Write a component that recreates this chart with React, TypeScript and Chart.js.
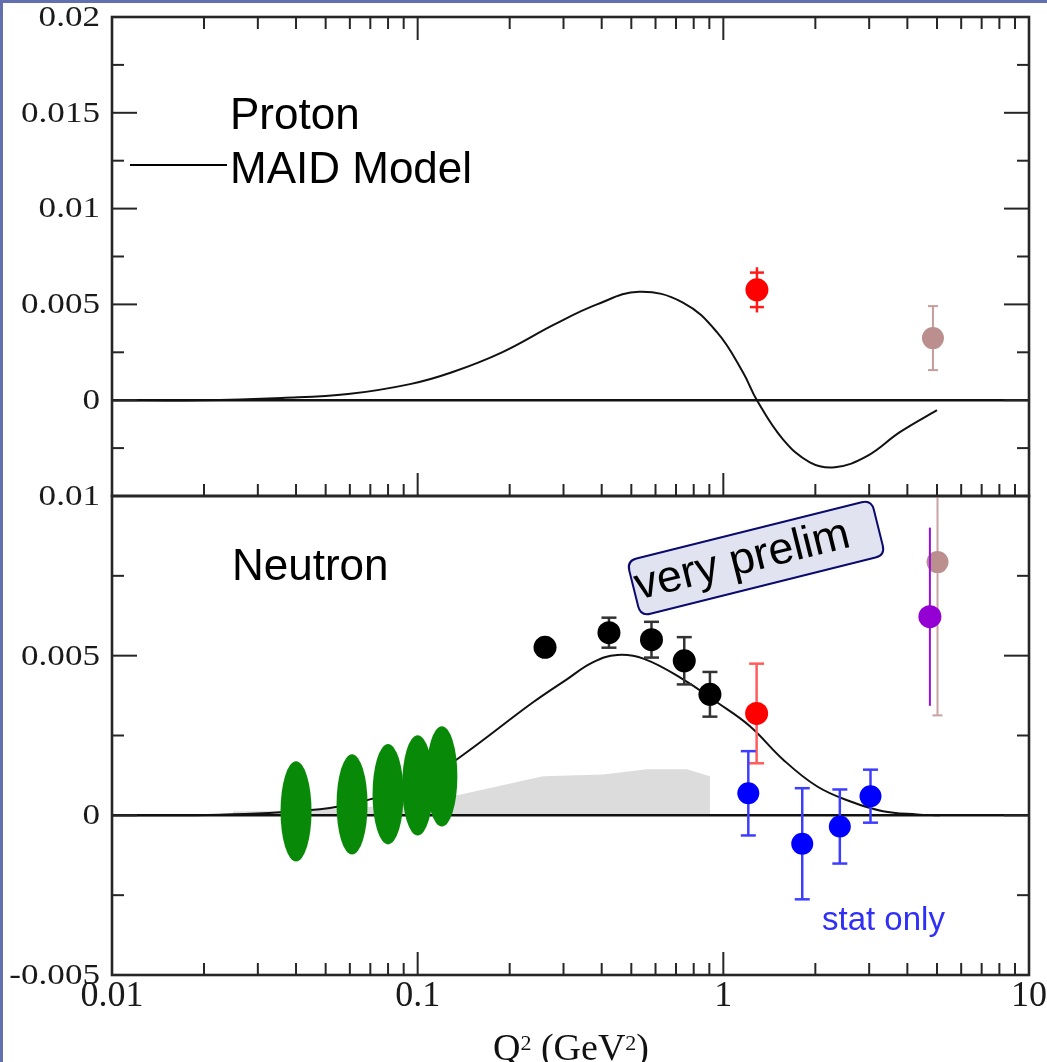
import React, { useEffect, useRef } from "react";
import { Chart, registerables } from "chart.js";
Chart.register(...registerables);

// ---------------- data ----------------
// MAID model, proton
const maidProtonQ2 = [0.01, 0.0194, 0.036, 0.0592, 0.0944, 0.1295, 0.1888, 0.2813, 0.386, 0.53, 0.735, 0.953, 1.159, 1.288, 1.567, 1.919, 2.317, 2.95, 3.78, 5.0];
const maidProtonA = [0, 0, 0.00012, 0.00032, 0.00084, 0.00146, 0.0025, 0.00397, 0.005, 0.00566, 0.00511, 0.00355, 0.00146, 0, -0.00204, -0.00324, -0.0035, -0.00292, -0.00167, -0.00052];

// proton data points
const protonRedQ2 = [1.288];
const protonRedA = [0.00576];
const protonRedStat = [0.0009];
const protonRedTot = [0.00118];

const protonBrownQ2 = [4.85];
const protonBrownA = [0.00324];
const protonBrownErr = [0.00167];

// MAID model, neutron
const maidNeutronQ2 = [0.01, 0.0225, 0.0479, 0.0698, 0.1, 0.1374, 0.2385, 0.3077, 0.374, 0.45, 0.55, 0.738, 0.953, 1.222, 1.567, 2.023, 2.594, 3.327, 4.3, 5.11];
const maidNeutronA = [0, 0.00002, 0.00019, 0.0005, 0.00097, 0.00182, 0.00354, 0.00426, 0.00479, 0.00502, 0.0049, 0.00426, 0.00354, 0.00279, 0.00175, 0.00091, 0.00044, 0.00013, 0.00003, 0];

// neutron systematic band
const bandQ2 = [0.0249, 0.04, 0.08, 0.1304, 0.257, 0.404, 0.562, 0.76, 0.904, 0.904];
const bandA = [0.00012, 0.00015, 0.0003, 0.0006, 0.00122, 0.00128, 0.00144, 0.00144, 0.00122, 0];

// neutron data points
const neutronBlackQ2 = [0.261, 0.4225, 0.582, 0.745, 0.904];
const neutronBlackA = [0.00526, 0.00572, 0.0055, 0.00484, 0.00379];
const neutronBlackErr = [0.0001, 0.00047, 0.00056, 0.00074, 0.0007];

const neutronRedQ2 = [1.285];
const neutronRedA = [0.00319];
const neutronRedErr = [0.00156];

const neutronBlueQ2 = [1.207, 1.812, 2.405, 3.03];
const neutronBlueA = [0.00069, -0.00089, -0.00035, 0.0006];
const neutronBlueErr = [0.00132, 0.00174, 0.00116, 0.00083];

const neutronPurpleQ2 = [4.74];
const neutronPurpleA = [0.00622];
const neutronPurpleErr = [0.00279];

const neutronBrownQ2 = [5.02];
const neutronBrownA = [0.00793];
const neutronBrownErr = [0.0048];

// low-Q2 neutron data (ellipses)
const greenQ2 = [0.04, 0.061, 0.08, 0.1, 0.12];
const greenA = [0.000125, 0.00034, 0.00066, 0.00094, 0.00122];
const greenErr = [0.00157, 0.00157, 0.00157, 0.00157, 0.00157];

// zero lines
const zeroQ2 = [0.01, 10];
const zeroA = [0, 0];

// ticks
const xTickValues = [0.01, 0.1, 1, 10];
const xTickLabels = ["0.01", "0.1", "1", "10"];
const xMajorTicks = [0.1, 1];
const xMinorTicks = [0.02, 0.03, 0.04, 0.05, 0.06, 0.07, 0.08, 0.09, 0.2, 0.3, 0.4, 0.5, 0.6, 0.7, 0.8, 0.9, 2, 3, 4, 5, 6, 7, 8, 9];

const protonYTickValues = [0, 0.005, 0.01, 0.015, 0.02];
const protonYTickLabels = ["0", "0.005", "0.01", "0.015", "0.02"];
const protonYMajor = [0, 0.005, 0.01, 0.015];
const protonYMinor = [-0.0025, 0.0025, 0.0075, 0.0125, 0.0175];

const neutronYTickValues = [-0.005, 0, 0.005, 0.01];
const neutronYTickLabels = ["-0.005", "0", "0.005", "0.01"];
const neutronYMajor = [0, 0.005];
const neutronYMinor = [-0.0025, 0.0025, 0.0075];

// ---------------- helpers ----------------
const pts = (xs: number[], ys: number[]) => xs.map((x, i) => ({ x, y: ys[i] }));

const SERIF = '"Liberation Serif", "Times New Roman", serif';
const SANS = '"Liberation Sans", Arial, sans-serif';
const AXIS = "#262626";
const MAJ = 23;
const MIN = 12;

const errorBarPlugin = {
  id: "errbars",
  beforeDatasetDraw(chart: any, args: any) {
    const ds: any = chart.data.datasets[args.index];
    if (!ds.errStat) return;
    const { ctx, chartArea: a } = chart;
    const xs = chart.scales.x;
    const ys = chart.scales.y;
    ctx.save();
    ctx.beginPath();
    ctx.rect(a.left, a.top, a.right - a.left, a.bottom - a.top);
    ctx.clip();
    ctx.strokeStyle = ds.errColor;
    ctx.lineWidth = ds.errWidth;
    ds.data.forEach((p: any, i: number) => {
      const px = xs.getPixelForValue(p.x);
      const tot = ds.errTot[i];
      const st = ds.errStat[i];
      ctx.beginPath();
      ctx.moveTo(px, ys.getPixelForValue(p.y + tot));
      ctx.lineTo(px, ys.getPixelForValue(p.y - tot));
      ctx.stroke();
      if (ds.capHalf > 0) {
        [p.y + st, p.y - st].forEach((v) => {
          const py = ys.getPixelForValue(v);
          ctx.beginPath();
          ctx.moveTo(px - ds.capHalf, py);
          ctx.lineTo(px + ds.capHalf, py);
          ctx.stroke();
        });
      }
    });
    ctx.restore();
  },
};

const framePlugin = (yMajor: number[], yMinor: number[], topTicks: boolean, yLabelValues: number[], yLabels: string[]) => ({
  id: "frame",
  afterDraw(chart: any) {
    const { ctx, chartArea: a } = chart;
    const xs = chart.scales.x;
    const ys = chart.scales.y;
    ctx.save();
    ctx.strokeStyle = AXIS;
    ctx.lineWidth = 2;
    const seg = (x1: number, y1: number, x2: number, y2: number) => {
      ctx.beginPath();
      ctx.moveTo(x1, y1);
      ctx.lineTo(x2, y2);
      ctx.stroke();
    };
    const xt = (vals: number[], len: number) =>
      vals.forEach((v) => {
        const px = xs.getPixelForValue(v);
        seg(px, a.bottom, px, a.bottom - len);
        if (topTicks) seg(px, a.top, px, a.top + len);
      });
    xt(xMajorTicks, MAJ);
    xt(xMinorTicks, MIN);
    const yt = (vals: number[], len: number) =>
      vals.forEach((v) => {
        const py = ys.getPixelForValue(v);
        seg(a.left, py, a.left + len, py);
        seg(a.right, py, a.right - len, py);
      });
    yt(yMajor, MAJ + 2);
    yt(yMinor, MIN);
    ctx.lineWidth = 2.6;
    ctx.strokeRect(a.left, a.top, a.right - a.left, a.bottom - a.top);

    // y tick labels (horizontally widened serif, like the original)
    ctx.fillStyle = "#1a1a1a";
    ctx.font = `30px ${SERIF}`;
    ctx.textAlign = "right";
    ctx.textBaseline = "middle";
    yLabelValues.forEach((v, i) => {
      const py = ys.getPixelForValue(v);
      ctx.save();
      ctx.translate(a.left - 12, py + 1);
      ctx.scale(1.17, 1);
      ctx.fillText(yLabels[i], 0, 0);
      ctx.restore();
    });
    ctx.restore();
  },
});

const ellipsePlugin = {
  id: "ellipses",
  afterDatasetsDraw(chart: any) {
    const { ctx } = chart;
    const xs = chart.scales.x;
    const ys = chart.scales.y;
    ctx.save();
    ctx.fillStyle = "#088a08";
    greenQ2.forEach((q, i) => {
      const cx = xs.getPixelForValue(q);
      const cy = ys.getPixelForValue(greenA[i]);
      const ry = Math.abs(ys.getPixelForValue(greenA[i] + greenErr[i]) - cy);
      ctx.beginPath();
      ctx.ellipse(cx, cy, 15.5, ry, 0, 0, Math.PI * 2);
      ctx.fill();
    });
    ctx.restore();
  },
};

const topTextPlugin = {
  id: "toptext",
  afterDraw(chart: any) {
    const { ctx } = chart;
    ctx.save();
    ctx.fillStyle = "#000";
    ctx.font = `44px ${SANS}`;
    ctx.textBaseline = "alphabetic";
    ctx.fillText("Proton", 230, 129);
    ctx.fillText("MAID Model", 230, 183);
    ctx.strokeStyle = "#000";
    ctx.lineWidth = 1.8;
    ctx.beginPath();
    ctx.moveTo(130, 165);
    ctx.lineTo(227, 165);
    ctx.stroke();
    ctx.restore();
  },
};

const OFF = 440; // top of bottom canvas in page

const bottomTextPlugin = {
  id: "bottomtext",
  afterDraw(chart: any) {
    const { ctx } = chart;
    ctx.save();
    ctx.fillStyle = "#000";
    ctx.font = `44px ${SANS}`;
    ctx.textBaseline = "alphabetic";
    ctx.fillText("Neutron", 232, 580 - OFF);

    // rotated "very prelim" box
    ctx.save();
    ctx.translate(756, 558 - OFF);
    ctx.rotate((-14 * Math.PI) / 180);
    const w = 252, h = 57, r = 10;
    ctx.beginPath();
    ctx.moveTo(-w / 2 + r, -h / 2);
    ctx.lineTo(w / 2 - r, -h / 2);
    ctx.quadraticCurveTo(w / 2, -h / 2, w / 2, -h / 2 + r);
    ctx.lineTo(w / 2, h / 2 - r);
    ctx.quadraticCurveTo(w / 2, h / 2, w / 2 - r, h / 2);
    ctx.lineTo(-w / 2 + r, h / 2);
    ctx.quadraticCurveTo(-w / 2, h / 2, -w / 2, h / 2 - r);
    ctx.lineTo(-w / 2, -h / 2 + r);
    ctx.quadraticCurveTo(-w / 2, -h / 2, -w / 2 + r, -h / 2);
    ctx.closePath();
    ctx.fillStyle = "#e1e4f0";
    ctx.fill();
    ctx.strokeStyle = "#0a0a70";
    ctx.lineWidth = 2;
    ctx.stroke();
    ctx.fillStyle = "#000";
    ctx.font = `45px ${SANS}`;
    ctx.fillText("very prelim", -124, 12);
    ctx.restore();

    ctx.fillStyle = "#2f2ff5";
    ctx.font = `33px ${SANS}`;
    ctx.fillText("stat only", 822, 930 - OFF);

    // axis title with superscripts
    const big = `38px ${SERIF}`;
    const small = `22px ${SERIF}`;
    const parts: any[] = [
      { t: "Q", f: big, dy: 0 },
      { t: "2", f: small, dy: -10 },
      { t: " (GeV", f: big, dy: 0 },
      { t: "2", f: small, dy: -10 },
      { t: ")", f: big, dy: 0 },
    ];
    let tw = 0;
    parts.forEach((p) => {
      ctx.font = p.f;
      p.w = ctx.measureText(p.t).width;
      tw += p.w;
    });
    let x = 571 - tw / 2;
    ctx.fillStyle = "#111";
    parts.forEach((p) => {
      ctx.font = p.f;
      ctx.fillText(p.t, x, 1060 - OFF + p.dy);
      x += p.w;
    });
    ctx.restore();
  },
};

const pointDs = (xs: number[], ys: number[], color: string, errStat: number[], errTot: number[], errColor: string, errWidth: number, capHalf: number, order: number, radius = 11.5): any => ({
  type: "scatter",
  data: pts(xs, ys),
  backgroundColor: color,
  borderWidth: 0,
  pointRadius: radius,
  pointHoverRadius: radius,
  errStat,
  errTot,
  errColor,
  errWidth,
  capHalf,
  order,
});

const lineDs = (xs: number[], ys: number[], width: number, order: number, tension = 0.4): any => ({
  type: "line",
  data: pts(xs, ys),
  borderColor: "#111",
  borderWidth: width,
  pointRadius: 0,
  fill: false,
  tension,
  order,
});

const yAxis = (min: number, max: number) => ({
  type: "linear",
  min,
  max,
  grid: { display: false, drawTicks: false },
  border: { display: false },
  afterFit(s: any) {
    s.width = 112;
  },
  ticks: { display: false },
});

export default function App() {
  const topRef = useRef<HTMLCanvasElement>(null);
  const botRef = useRef<HTMLCanvasElement>(null);

  useEffect(() => {
    const top = new Chart(topRef.current as HTMLCanvasElement, {
      type: "scatter",
      data: {
        datasets: [
          pointDs(protonRedQ2, protonRedA, "#ff0000", protonRedStat, protonRedTot, "#ff1a1a", 2.5, 7, 1),
          pointDs(protonBrownQ2, protonBrownA, "#bc8f8f", protonBrownErr, protonBrownErr, "#c79c9c", 2, 5, 2, 11),
          lineDs(maidProtonQ2, maidProtonA, 2, 5),
          lineDs(zeroQ2, zeroA, 2.5, 6, 0),
        ],
      },
      options: {
        responsive: false,
        animation: false,
        devicePixelRatio: 1,
        events: [],
        layout: { padding: { left: 0, right: 18, top: 17, bottom: 24 } },
        plugins: { legend: { display: false }, tooltip: { enabled: false } },
        scales: {
          x: { type: "logarithmic", min: 0.01, max: 10, display: false },
          y: yAxis(-0.005, 0.02),
        },
      } as any,
      plugins: [errorBarPlugin, framePlugin(protonYMajor, protonYMinor, true, protonYTickValues, protonYTickLabels), topTextPlugin],
    });

    const bottom = new Chart(botRef.current as HTMLCanvasElement, {
      type: "scatter",
      data: {
        datasets: [
          pointDs(neutronBlueQ2, neutronBlueA, "#0000ff", neutronBlueErr, neutronBlueErr, "#3d3dff", 2.5, 7.5, 1, 11),
          pointDs(neutronBlackQ2, neutronBlackA, "#000000", neutronBlackErr, neutronBlackErr, "#333333", 2.5, 7.5, 1),
          pointDs(neutronRedQ2, neutronRedA, "#ff0000", neutronRedErr, neutronRedErr, "#ff5c5c", 2.5, 7.5, 2),
          pointDs(neutronPurpleQ2, neutronPurpleA, "#9400d3", neutronPurpleErr, neutronPurpleErr, "#9a10d8", 2, 0, 2),
          pointDs(neutronBrownQ2, neutronBrownA, "#bc8f8f", neutronBrownErr, neutronBrownErr, "#c9a3a3", 2, 5, 3, 11),
          lineDs(maidNeutronQ2, maidNeutronA, 2, 5),
          lineDs(zeroQ2, zeroA, 2.5, 6, 0),
          {
            type: "line",
            data: pts(bandQ2, bandA),
            borderWidth: 0,
            borderColor: "rgba(0,0,0,0)",
            backgroundColor: "#dcdcdc",
            pointRadius: 0,
            fill: "origin",
            tension: 0,
            order: 10,
          } as any,
        ],
      },
      options: {
        responsive: false,
        animation: false,
        devicePixelRatio: 1,
        events: [],
        layout: { padding: { left: 0, right: 51, top: 56, bottom: 0 } },
        plugins: { legend: { display: false }, tooltip: { enabled: false }, filler: { propagate: false } },
        scales: {
          x: {
            type: "logarithmic",
            min: 0.01,
            max: 10,
            grid: { display: false },
            border: { display: false },
            afterFit(s: any) {
              s.height = 87;
            },
            afterBuildTicks(s: any) {
              s.ticks = xTickValues.map((v) => ({ value: v }));
            },
            ticks: {
              autoSkip: false,
              maxRotation: 0,
              padding: -4,
              color: "#1a1a1a",
              font: { family: SERIF, size: 36, lineHeight: 1 },
              callback: (_v: any, i: number) => xTickLabels[i],
            },
          },
          y: yAxis(-0.005, 0.01),
        },
      } as any,
      plugins: [errorBarPlugin, ellipsePlugin, framePlugin(neutronYMajor, neutronYMinor, false, neutronYTickValues, neutronYTickLabels), bottomTextPlugin],
    });

    return () => {
      top.destroy();
      bottom.destroy();
    };
  }, []);

  return (
    <div style={{ position: "fixed", left: 0, top: 0, width: 1047, height: 1062, overflow: "hidden", background: "#ffffff" }}>
      <canvas ref={topRef} width={1047} height={520} style={{ position: "absolute", left: 0, top: 0, width: 1047, height: 520, display: "block" }} />
      <canvas ref={botRef} width={1080} height={622} style={{ position: "absolute", left: 0, top: OFF, width: 1080, height: 622, display: "block" }} />
      <div
        style={{
          position: "absolute",
          left: 0,
          top: 0,
          width: 1047,
          height: 1062,
          boxSizing: "border-box",
          borderTop: "3px solid #6370b0",
          borderLeft: "3px solid #6370b0",
          pointerEvents: "none",
        }}
      />
    </div>
  );
}
